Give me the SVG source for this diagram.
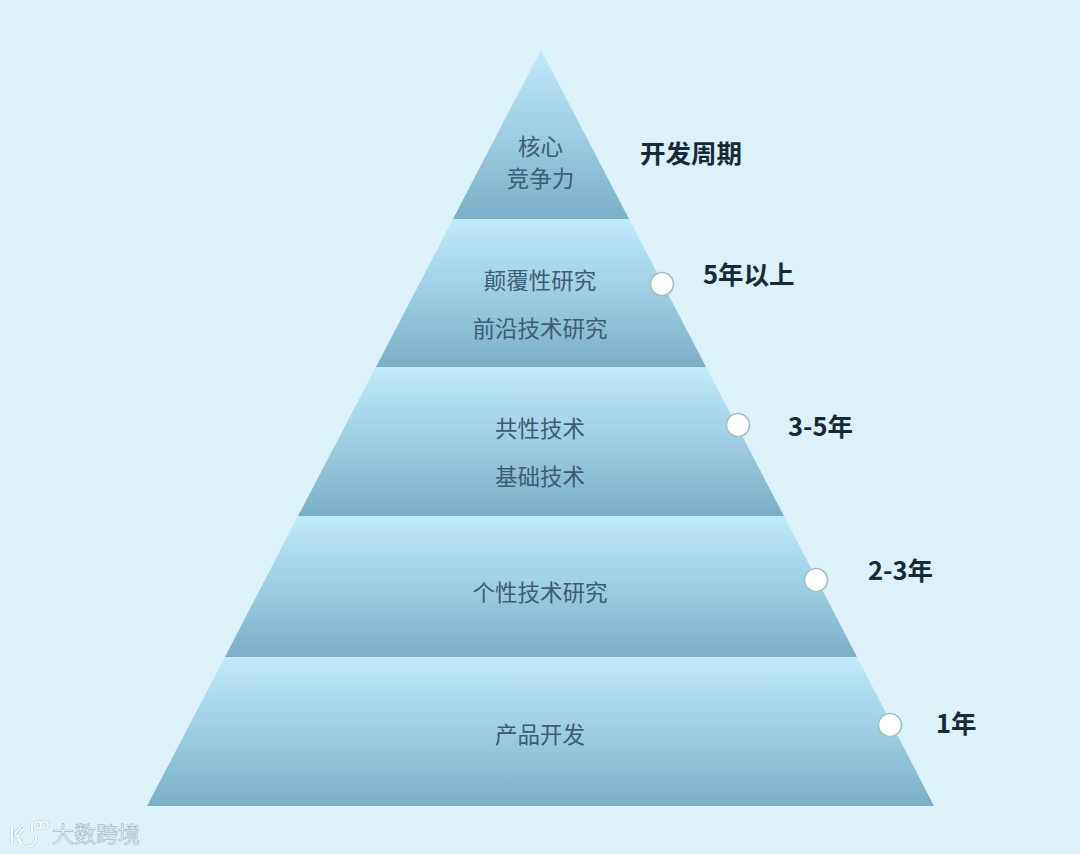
<svg xmlns="http://www.w3.org/2000/svg" width="1080" height="854" viewBox="0 0 1080 854">
<style>
.lab{font-family:"Noto Sans CJK SC","Noto Sans",sans-serif;font-size:22.5px;fill:#3f5c75;text-anchor:middle}
.per{font-family:"Noto Sans CJK SC","Noto Sans",sans-serif;font-size:25.5px;font-weight:700;fill:#182a38}
.dot{fill:#fff;stroke:#a3bfc4;stroke-width:1.6}
.wm{font-family:"Noto Sans CJK SC","Noto Sans",sans-serif;font-size:22px;fill:#eef8fc;stroke:#a9bcc6;stroke-width:.7}
.halo{fill:none;stroke:#b4c6cf}
.lg{fill:none;stroke:#f4fbfd}
</style>
<defs>
<linearGradient id="g" x1="0" y1="0" x2="0" y2="1"><stop offset="0" stop-color="#c0ebfb"/><stop offset="1" stop-color="#7ab0c6"/></linearGradient>
<g id="logo"><path d="M12 826V843M22 825L15 834L22 843"/><path d="M25 829A9 9 0 1 0 36 836"/><path d="M32 822V832"/><circle cx="38" cy="825" r="3.500"/><circle cx="44.500" cy="825" r="3.500"/></g>
</defs>
<rect width="1080" height="854" fill="#dcf1f8"/>
<g id="level-core"><polygon points="541,50 629,219 453,219" fill="url(#g)"/><text class="lab" x="540.500" y="155">核心</text><text class="lab" x="540.500" y="187">竞争力</text></g>
<g id="level-disruptive"><polygon points="453,219 629,219 706,367 376,367" fill="url(#g)"/><text class="lab" x="540" y="289">颠覆性研究</text><text class="lab" x="540" y="337">前沿技术研究</text></g>
<g id="level-common"><polygon points="376,367 706,367 784,516 298,516" fill="url(#g)"/><text class="lab" x="540" y="437">共性技术</text><text class="lab" x="540" y="485">基础技术</text></g>
<g id="level-specific"><polygon points="298,516 784,516 857,657 225,657" fill="url(#g)"/><text class="lab" x="540" y="601">个性技术研究</text></g>
<g id="level-product"><polygon points="225,657 857,657 934,806 147,806" fill="url(#g)"/><text class="lab" x="540" y="743">产品开发</text></g>
<g id="period-title"><text class="per" x="640" y="163">开发周期</text></g>
<g id="period-5"><circle class="dot" cx="662" cy="284" r="11.500"/><text class="per" x="703" y="284">5年以上</text></g>
<g id="period-3-5"><circle class="dot" cx="738" cy="425" r="11.500"/><text class="per" x="788" y="436">3-5年</text></g>
<g id="period-2-3"><circle class="dot" cx="816" cy="580" r="11.500"/><text class="per" x="868" y="580">2-3年</text></g>
<g id="period-1"><circle class="dot" cx="890" cy="725" r="11.500"/><text class="per" x="936" y="733">1年</text></g>
<g id="watermark">
<use href="#logo" class="halo" stroke-width="3"/>
<use href="#logo" class="lg" stroke-width="2"/>
<text class="wm" x="52" y="842">大数跨境</text>
</g>
</svg>
